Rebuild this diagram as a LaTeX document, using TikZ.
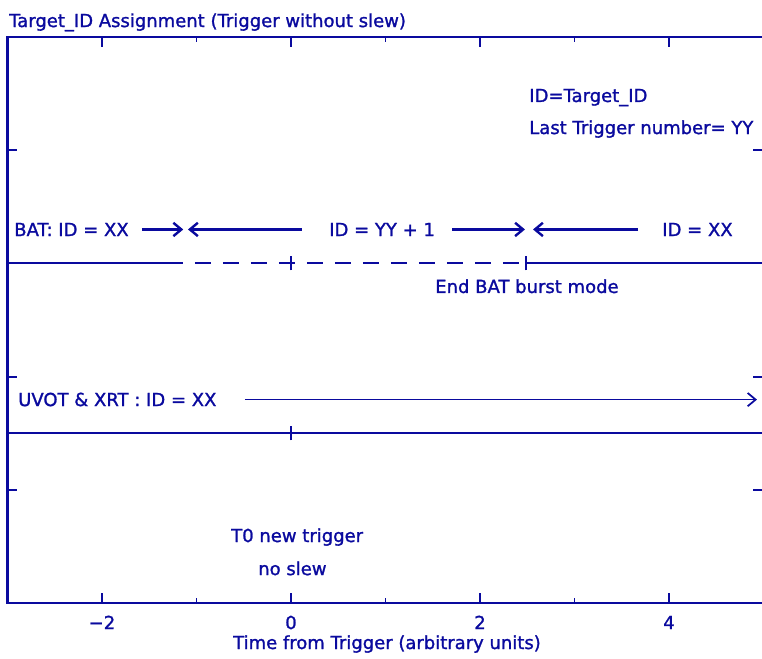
\documentclass[tikz,border=0pt]{standalone}
\usepackage{fontspec}
\setmainfont[FakeBold=1.3,AutoFakeBold=1.3]{DejaVu Sans}
\usetikzlibrary{arrows.meta}
\definecolor{tinta}{HTML}{0A0A9E}

\begin{document}
\begin{tikzpicture}[x=70.875pt, y=84.9pt, font=\fontsize{13.5}{16}\selectfont\bfseries,
		texto/.style={text=tinta, inner sep=0pt, anchor=base west},
		eje/.style={draw=tinta, line width=1.9pt},
		linea/.style={draw=tinta, line width=1.5pt},
		marca/.style={draw=tinta, line width=1.3pt},
		flecha/.style={-{Straight Barb[length=6pt, width=10pt]}, tinta, line width=1.8pt},
		fina/.style={-{Straight Barb[length=6pt, width=10pt]}, tinta, line width=1.3pt}]
	\useasboundingbox (-3.079,-0.486) rectangle (4.984,5.327);
	\clip (-3.079,-0.486) rectangle (4.984,5.327);
	% marco y marcas
	\draw[eje] (-3,0) rectangle (5,5);
	\foreach \x in {-2,0,2,4} {
		\draw[marca] (\x,0) -- (\x,0.088);
		\draw[marca] (\x,5) -- (\x,4.912);
	}
	\foreach \x in {-1,1,3} {
		\draw[marca] (\x,0) -- (\x,0.044);
		\draw[marca] (\x,5) -- (\x,4.956);
	}
	\foreach \y in {1,...,4} {
		\draw[marca] (-3,\y) -- (-2.894,\y);
		\draw[marca] (5,\y) -- (4.894,\y);
	}
	\foreach \x/\t [count=\i] in {-2/−2, 0/0, 2/2, 4/4}
		\node[texto, anchor=base] (num\i) at (\x,-0.230) {\t};
	\node[texto, anchor=base] (ejex) at (1.016,-0.406) {Time from Trigger (arbitrary units)};
	\node[texto] (titulo) at (-2.984,5.088) {Target\_ID Assignment (Trigger without slew)};

	% leyenda
	\node[texto] (idt) at (2.519,4.426) {ID=Target\_ID};
	\node[texto] (ult) at (2.519,4.143) {Last Trigger number= YY};

	% BAT
	\node[texto] (bat) at (-2.931,3.242) {BAT: ID = XX};
	\node[texto] (nuevo) at (0.402,3.242) {ID = YY + 1};
	\node[texto] (vuelta) at (3.926,3.242) {ID = XX};
	\coordinate (b1) at (-1.577,3.300);
	\coordinate (b2) at (-1.140,3.300);
	\coordinate (b3) at (0.116,3.300);
	\coordinate (b4) at (-1.090,3.300);
	\coordinate (b5) at (1.704,3.300);
	\coordinate (b6) at (2.476,3.300);
	\coordinate (b7) at (3.672,3.300);
	\coordinate (b8) at (2.561,3.300);
	\draw[flecha] (b1) -- (b2);
	\draw[flecha] (b3) -- (b4);
	\draw[flecha] (b5) -- (b6);
	\draw[flecha] (b7) -- (b8);
	\coordinate (l0) at (-3,3);
	\coordinate (l1) at (-1.143,3);
	\coordinate (l2) at (2.490,3);
	\coordinate (l3) at (5,3);
	\draw[linea] (l0) -- (l1);
	\draw[linea, dash pattern=on 12pt off 9pt, dash phase=12pt] (l1) -- (l2);
	\draw[linea] (l2) -- (l3);
	\draw[marca] (0,2.938) -- (0,3.062);
	\draw[marca] (l2) ++(0,-0.062) -- ++(0,0.124);
	\node[texto] (fin) at (1.524,2.739) {End BAT burst mode};

	% UVOT y XRT
	\node[texto] (uvot) at (-2.889,1.740) {UVOT \& XRT : ID = XX};
	\coordinate (u1) at (-0.487,1.797);
	\coordinate (u2) at (4.931,1.797);
	\draw[fina] (u1) -- (u2);
	\draw[linea] (-3,1.5) -- (5,1.5);
	\draw[marca] (0,1.438) -- (0,1.562);

	% disparo
	\node[texto] (t0) at (-0.635,0.539) {T0 new trigger};
	\node[texto] (sin) at (-0.349,0.247) {no slew};
\end{tikzpicture}
\end{document}
